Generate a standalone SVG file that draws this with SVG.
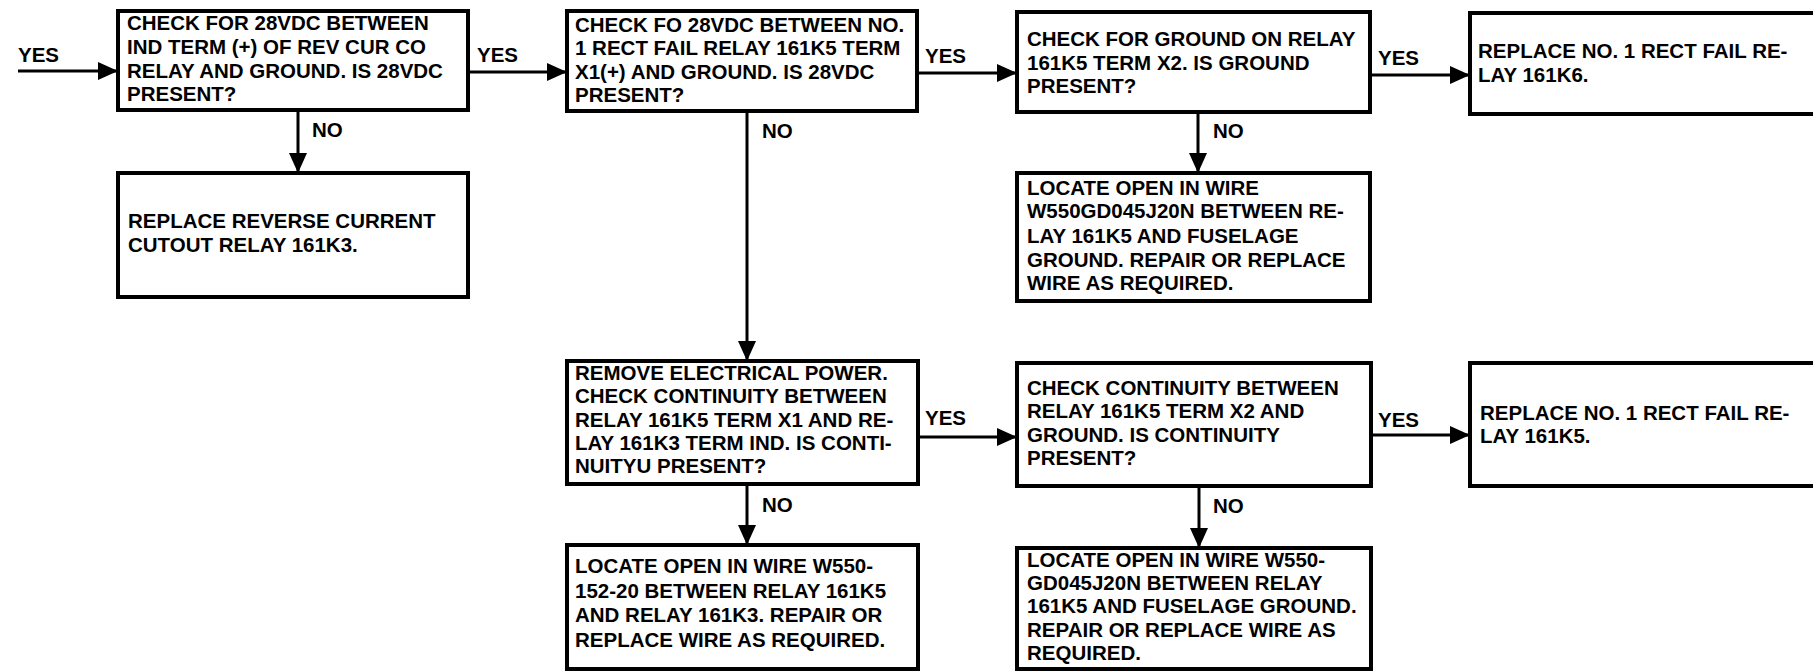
<svg xmlns="http://www.w3.org/2000/svg" width="1813" height="672" viewBox="0 0 1813 672">
<style>
.box{fill:#fff;stroke:#000;stroke-width:4}
.t{font-family:"Liberation Sans",Arial,Helvetica,sans-serif;font-weight:bold;font-size:20.5px;fill:#000}
.ln{stroke:#000;stroke-width:3;fill:none}
</style>
<defs>
<marker id="ah" viewBox="0 0 20 18" refX="20" refY="9" markerWidth="20" markerHeight="18" markerUnits="userSpaceOnUse" orient="auto">
<path d="M0,0 L20,9 L0,18 z" fill="#000"/>
</marker>
</defs>
<rect width="1813" height="672" fill="#fff"/>
<g id="connectors">
<line class="ln" x1="18" y1="71" x2="118" y2="71" marker-end="url(#ah)"/>
<text class="t" x="18" y="62">YES</text>
<line class="ln" x1="468" y1="72" x2="567" y2="72" marker-end="url(#ah)"/>
<text class="t" x="477" y="62">YES</text>
<line class="ln" x1="298" y1="110" x2="298" y2="173" marker-end="url(#ah)"/>
<text class="t" x="312" y="137">NO</text>
<line class="ln" x1="917" y1="73" x2="1017" y2="73" marker-end="url(#ah)"/>
<text class="t" x="925" y="63">YES</text>
<line class="ln" x1="747" y1="111" x2="747" y2="361" marker-end="url(#ah)"/>
<text class="t" x="762" y="138">NO</text>
<line class="ln" x1="1370" y1="75" x2="1470" y2="75" marker-end="url(#ah)"/>
<text class="t" x="1378" y="65">YES</text>
<line class="ln" x1="1198" y1="112" x2="1198" y2="173" marker-end="url(#ah)"/>
<text class="t" x="1213" y="138">NO</text>
<line class="ln" x1="918" y1="437" x2="1017" y2="437" marker-end="url(#ah)"/>
<text class="t" x="925" y="425">YES</text>
<line class="ln" x1="747" y1="484" x2="747" y2="545" marker-end="url(#ah)"/>
<text class="t" x="762" y="512">NO</text>
<line class="ln" x1="1371" y1="435" x2="1470" y2="435" marker-end="url(#ah)"/>
<text class="t" x="1378" y="427">YES</text>
<line class="ln" x1="1199" y1="486" x2="1199" y2="548" marker-end="url(#ah)"/>
<text class="t" x="1213" y="513">NO</text>
</g>
<g id="n1">
<rect class="box" x="118" y="11" width="350" height="99"/>
<text class="t"><tspan x="127" y="30">CHECK FOR 28VDC BETWEEN</tspan><tspan x="127" y="54">IND TERM (+) OF REV CUR CO</tspan><tspan x="127" y="78">RELAY AND GROUND. IS 28VDC</tspan><tspan x="127" y="101">PRESENT?</tspan></text>
</g>
<g id="n2">
<rect class="box" x="118" y="173" width="350" height="124"/>
<text class="t"><tspan x="128" y="228">REPLACE REVERSE CURRENT</tspan><tspan x="128" y="252">CUTOUT RELAY 161K3.</tspan></text>
</g>
<g id="n3">
<rect class="box" x="567" y="11" width="350" height="100"/>
<text class="t"><tspan x="575" y="32">CHECK FO 28VDC BETWEEN NO.</tspan><tspan x="575" y="55">1 RECT FAIL RELAY 161K5 TERM</tspan><tspan x="575" y="79">X1(+) AND GROUND. IS 28VDC</tspan><tspan x="575" y="102">PRESENT?</tspan></text>
</g>
<g id="n4">
<rect class="box" x="1017" y="12" width="353" height="100"/>
<text class="t"><tspan x="1027" y="46">CHECK FOR GROUND ON RELAY</tspan><tspan x="1027" y="70">161K5 TERM X2. IS GROUND</tspan><tspan x="1027" y="93">PRESENT?</tspan></text>
</g>
<g id="n5">
<rect class="box" x="1017" y="173" width="353" height="128"/>
<text class="t"><tspan x="1027" y="195">LOCATE OPEN IN WIRE</tspan><tspan x="1027" y="218">W550GD045J20N BETWEEN RE-</tspan><tspan x="1027" y="243">LAY 161K5 AND FUSELAGE</tspan><tspan x="1027" y="267">GROUND. REPAIR OR REPLACE</tspan><tspan x="1027" y="290">WIRE AS REQUIRED.</tspan></text>
</g>
<g id="n6">
<rect class="box" x="1470" y="13" width="400" height="101"/>
<text class="t"><tspan x="1478" y="58">REPLACE NO. 1 RECT FAIL RE-</tspan><tspan x="1478" y="82">LAY 161K6.</tspan></text>
</g>
<g id="n7">
<rect class="box" x="567" y="361" width="351" height="123"/>
<text class="t"><tspan x="575" y="380">REMOVE ELECTRICAL POWER.</tspan><tspan x="575" y="403">CHECK CONTINUITY BETWEEN</tspan><tspan x="575" y="427">RELAY 161K5 TERM X1 AND RE-</tspan><tspan x="575" y="450">LAY 161K3 TERM IND. IS CONTI-</tspan><tspan x="575" y="473">NUITYU PRESENT?</tspan></text>
</g>
<g id="n8">
<rect class="box" x="567" y="545" width="351" height="124"/>
<text class="t"><tspan x="575" y="573">LOCATE OPEN IN WIRE W550-</tspan><tspan x="575" y="598">152-20 BETWEEN RELAY 161K5</tspan><tspan x="575" y="622">AND RELAY 161K3. REPAIR OR</tspan><tspan x="575" y="647">REPLACE WIRE AS REQUIRED.</tspan></text>
</g>
<g id="n9">
<rect class="box" x="1017" y="363" width="354" height="123"/>
<text class="t"><tspan x="1027" y="395">CHECK CONTINUITY BETWEEN</tspan><tspan x="1027" y="418">RELAY 161K5 TERM X2 AND</tspan><tspan x="1027" y="442">GROUND. IS CONTINUITY</tspan><tspan x="1027" y="465">PRESENT?</tspan></text>
</g>
<g id="n10">
<rect class="box" x="1017" y="548" width="354" height="121"/>
<text class="t"><tspan x="1027" y="567">LOCATE OPEN IN WIRE W550-</tspan><tspan x="1027" y="590">GD045J20N BETWEEN RELAY</tspan><tspan x="1027" y="613">161K5 AND FUSELAGE GROUND.</tspan><tspan x="1027" y="637">REPAIR OR REPLACE WIRE AS</tspan><tspan x="1027" y="660">REQUIRED.</tspan></text>
</g>
<g id="n11">
<rect class="box" x="1470" y="363" width="400" height="123"/>
<text class="t"><tspan x="1480" y="420">REPLACE NO. 1 RECT FAIL RE-</tspan><tspan x="1480" y="443">LAY 161K5.</tspan></text>
</g>
</svg>
